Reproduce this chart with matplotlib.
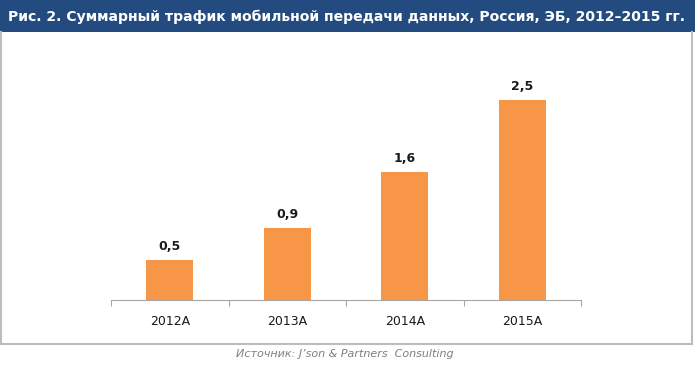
import matplotlib
matplotlib.use("Agg")
import matplotlib.pyplot as plt
from matplotlib.patches import Rectangle
from matplotlib.lines import Line2D

categories = ["2012A", "2013A", "2014A", "2015A"]
values = [0.5, 0.9, 1.6, 2.5]
value_labels = ["0,5", "0,9", "1,6", "2,5"]

title = "Рис. 2. Суммарный трафик мобильной передачи данных, Россия, ЭБ, 2012\u20132015 гг."
source = "Источник: J\u2019son & Partners  Consulting"

W, H = 695, 367
fig = plt.figure(figsize=(W / 100, H / 100), dpi=100)

# title band and frame
fig.patches.append(Rectangle((0, 1 - 32 / H), 1, 32 / H, transform=fig.transFigure,
                             facecolor="#244B7F", edgecolor="none", zorder=0))
frame_kw = dict(transform=fig.transFigure, color="#BDBDBD", lw=1.5)
fig.lines.append(Line2D([1 / W, 1 / W], [1 - 344 / H, 1 - 32 / H], **frame_kw))
fig.lines.append(Line2D([692 / W, 692 / W], [1 - 344 / H, 1 - 32 / H], **frame_kw))
fig.lines.append(Line2D([1 / W, 692 / W], [1 - 344 / H, 1 - 344 / H], **frame_kw))

fig.text(8 / W, 1 - 17 / H, title, color="white", fontsize=10.1, fontweight="bold",
         va="center", ha="left")
fig.text(345 / W, 1 - 354 / H, source, color="#7F7F7F", fontsize=8, style="italic",
         ha="center", va="center")

ax = fig.add_axes([111 / W, 1 - 300 / H, 470 / W, 240 / H])
x = range(len(categories))
bars = ax.bar(x, values, width=0.4, color="#F79646")
for b, lab in zip(bars, value_labels):
    ax.text(b.get_x() + b.get_width() / 2, b.get_height() + 0.09, lab,
            ha="center", va="bottom", fontsize=9, fontweight="bold", color="#1A1A1A")

ax.set_xlim(-0.5, 3.5)
ax.set_ylim(0, 3)
for s in ["top", "right", "left"]:
    ax.spines[s].set_visible(False)
ax.spines["bottom"].set_color("#A6A6A6")
ax.set_yticks([])
ax.set_xticks([i - 0.5 for i in range(len(categories) + 1)], minor=False)
ax.set_xticklabels([])
ax.tick_params(axis="x", which="major", length=4, color="#A6A6A6")
ax.set_xticks(list(x), minor=True)
ax.set_xticklabels(categories, minor=True, fontsize=9, color="#1A1A1A")
ax.tick_params(axis="x", which="minor", length=0, pad=11)

fig.savefig("out.png", dpi=100)
